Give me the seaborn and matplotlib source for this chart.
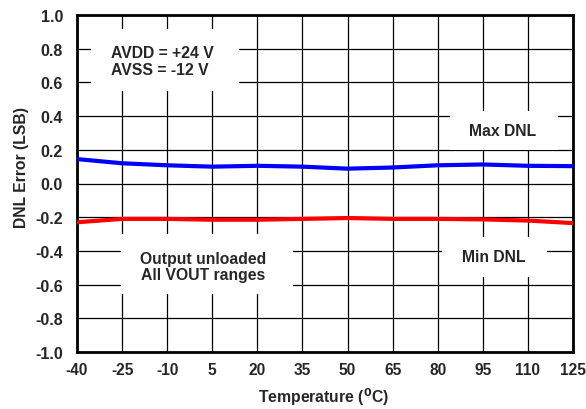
import matplotlib
matplotlib.use("Agg")
import matplotlib.pyplot as plt
from matplotlib.patches import Rectangle
import seaborn as sns
import pandas as pd

temps = [-40, -25, -10, 5, 20, 35, 50, 65, 80, 95, 110, 125]
max_dnl = [0.145, 0.120, 0.108, 0.100, 0.105, 0.100, 0.088, 0.095, 0.108, 0.113, 0.105, 0.103]
min_dnl = [-0.230, -0.210, -0.210, -0.215, -0.215, -0.210, -0.205, -0.210, -0.210, -0.213, -0.220, -0.235]
yticks = [-1.0, -0.8, -0.6, -0.4, -0.2, 0.0, 0.2, 0.4, 0.6, 0.8, 1.0]

sns.set_style("white")
plt.rcParams['font.family'] = ['Liberation Sans', 'DejaVu Sans']
plt.rcParams['font.weight'] = 'bold'

df = pd.DataFrame({"T": temps + temps,
                   "v": max_dnl + min_dnl,
                   "s": ["Max"] * len(temps) + ["Min"] * len(temps)})

W, H = 586, 410
L, R, T, B = 77, 573, 16, 353
fig = plt.figure(figsize=(W/100, H/100), dpi=100)
ax = fig.add_axes([L/W, 1-B/H, (R-L)/W, (B-T)/H])
sns.lineplot(data=df, x="T", y="v", hue="s", palette={"Max": "#0000ff", "Min": "#ff0000"},
             linewidth=3, ax=ax, legend=False, zorder=3)
ax.set_xlim(-40, 125)
ax.set_ylim(-1, 1)
ax.set_xticks(temps)
ax.set_xticklabels([str(t) for t in temps], fontsize=11.2, fontweight='bold')
ax.set_yticks(yticks)
ax.set_yticklabels([f"{y:.1f}" for y in yticks], fontsize=11.5, fontweight='bold')
ax.grid(True, color='black', linewidth=0.9)
ax.tick_params(axis='x', length=0, pad=7.5)
ax.tick_params(axis='y', length=0, pad=10)
for s in ax.spines.values():
    s.set_linewidth(2)
    s.set_color('black')
ax.set_xlabel("Temperature ($^0$C)", fontsize=11.3, fontweight='bold')
ax.set_ylabel("DNL Error (LSB)", fontsize=11.3, fontweight='bold')

def ax_x(px):
    return (px - L) / (R - L)

def ax_y(py):
    return (B - py) / (B - T)

ax.xaxis.set_label_coords(ax_x(324), ax_y(386))
ax.yaxis.set_label_coords(ax_x(29), ax_y(168))

def box(x0, x1, y0, y1):
    ax.add_patch(Rectangle((ax_x(x0), ax_y(y1)), ax_x(x1) - ax_x(x0), ax_y(y0) - ax_y(y1),
                           transform=ax.transAxes, facecolor='white', edgecolor='none', zorder=2.5))

box(91, 239, 30, 92)
box(450, 558, 112, 151)
box(442, 547, 238, 278)
box(121, 293, 235, 295)

fs = 11.3
ax.text(ax_x(111), ax_y(62), "AVDD = +24 V\nAVSS = -12 V", fontsize=fs, fontweight='bold',
        ha='left', va='center', linespacing=1.1, transform=ax.transAxes, zorder=4)
ax.text(ax_x(503), ax_y(132), "Max DNL", fontsize=fs, fontweight='bold',
        ha='center', va='center', transform=ax.transAxes, zorder=4)
ax.text(ax_x(494), ax_y(258), "Min DNL", fontsize=fs, fontweight='bold',
        ha='center', va='center', transform=ax.transAxes, zorder=4)
ax.text(ax_x(203.5), ax_y(267.5), "Output unloaded\nAll VOUT ranges", fontsize=fs, fontweight='bold',
        ha='center', va='center', linespacing=1.1, transform=ax.transAxes, zorder=4)

fig.savefig("out.png", dpi=100)
